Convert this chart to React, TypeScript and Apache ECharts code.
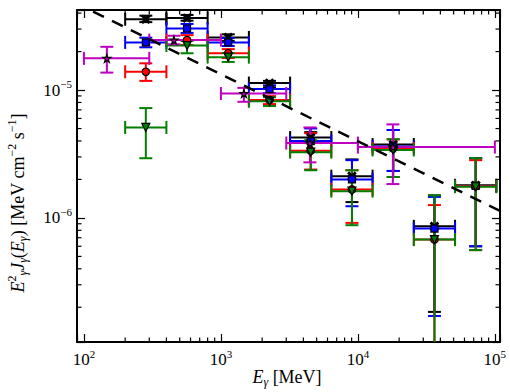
import React, { useEffect, useRef } from 'react';
import * as echarts from 'echarts';

// Energy bins (MeV)
const binLow = [200, 400, 800, 1600, 3200, 6400, 12800, 25600, 51200];
const binHigh = [400, 800, 1600, 3200, 6400, 12800, 25600, 51200, 102400];
const binCenter = [283, 566, 1131, 2263, 4525, 9051, 18102, 36204, 72408];

// Black (x markers)
const blackY = [3.58e-5, 3.66e-5, 2.58e-5, 1.134e-5, 4.25e-6, 2.12e-6, 3.75e-6, 8.6e-7, 1.8e-6];
const blackLo = [3.4e-5, 3.49e-5, 2.42e-5, 1.05e-5, 3.85e-6, 1.33e-6, 2.33e-6, 1.84e-7, 6.0e-7];
const blackHi = [3.82e-5, 3.87e-5, 2.73e-5, 1.18e-5, 4.69e-6, 2.87e-6, 4.87e-6, 1.5e-6, 2.93e-6];

// Blue squares
const blueY = [2.36e-5, 3.03e-5, 2.36e-5, 1.018e-5, 3.99e-6, 2.0e-6, 3.62e-6, 8.26e-7, 1.78e-6];
const blueLo = [2.16e-5, 2.8e-5, 2.21e-5, 9.47e-6, 3.3e-6, 1.234e-6, 2.33e-6, 1.71e-7, 6.0e-7];
const blueHi = [2.57e-5, 3.29e-5, 2.55e-5, 1.09e-5, 5.01e-6, 2.83e-6, 4.87e-6, 1.46e-6, 2.93e-6];

// Red circles
const redY = [1.39e-5, 2.46e-5, 1.94e-5, 8.35e-6, 3.35e-6, 1.67e-6, 3.5e-6, 6.77e-7, 1.77e-6];
const redLo = [1.18e-5, 2.25e-5, 1.78e-5, 7.77e-6, 2.39e-6, 9.14e-7, 2.09e-6, 5e-8, 5.6e-7];
const redHi = [1.62e-5, 2.69e-5, 2.09e-5, 8.97e-6, 4.6e-6, 2.36e-6, 4.11e-6, 1.26e-6, 2.83e-6];

// Green down-triangles
const greenY = [5.1e-6, 2.23e-5, 1.81e-5, 8.17e-6, 3.27e-6, 1.62e-6, 3.4e-6, 6.77e-7, 1.755e-6];
const greenLo = [2.93e-6, 1.94e-5, 1.66e-5, 7.5e-6, 2.36e-6, 8.77e-7, 2.09e-6, 5e-8, 5.6e-7];
const greenHi = [7.23e-6, 2.42e-5, 1.95e-5, 8.8e-6, 4.06e-6, 2.36e-6, 4.13e-6, 1.5e-6, 2.93e-6];

// Magenta stars
const magX = [147, 454, 1472, 4463, 18010];
const magXLo = [100, 300, 1000, 3000, 10000];
const magXHi = [300, 1000, 3000, 10000, 100000];
const magY = [1.77e-5, 2.46e-5, 9.4e-6, 3.85e-6, 3.58e-6];
const magLo = [1.37e-5, 2.28e-5, 8.1e-6, 2.72e-6, 1.84e-6];
const magHi = [2.18e-5, 2.66e-5, 1.04e-5, 5.1e-6, 5.39e-6];

// Dashed reference power law
const dashE = [85, 110000];
const dashF = [4.85e-5, 1.13e-6];

// Minor tick positions
const xMinor = [200, 300, 400, 500, 600, 700, 800, 900, 2000, 3000, 4000, 5000, 6000, 7000, 8000, 9000, 20000, 30000, 40000, 50000, 60000, 70000, 80000, 90000];
const yMinor = [2e-7, 3e-7, 4e-7, 5e-7, 6e-7, 7e-7, 8e-7, 9e-7, 2e-6, 3e-6, 4e-6, 5e-6, 6e-6, 7e-6, 8e-6, 9e-6, 2e-5, 3e-5, 4e-5];

const X_MIN = 89;
const X_MAX = 109000;
const Y_MIN = 1.07e-7;
const Y_MAX = 4.23e-5;

const FONT = 'Liberation Serif, DejaVu Serif, serif';

const starPath = 'path://M50,0 L61,35 L98,35 L68,57 L79,91 L50,70 L21,91 L32,57 L2,35 L39,35 Z';
const xPath = 'path://M0,1.5 L1.5,0 L5,3.5 L8.5,0 L10,1.5 L6.5,5 L10,8.5 L8.5,10 L5,6.5 L1.5,10 L0,8.5 L3.5,5 Z';

function errRender(color: string) {
  return (params: any, api: any) => {
    const x = api.value(0), y = api.value(1);
    const xl = api.value(2), xh = api.value(3), yl = api.value(4), yh = api.value(5);
    const c = api.coord([x, y]);
    const l = api.coord([xl, y]);
    const r = api.coord([xh, y]);
    const t = api.coord([x, yh]);
    const b = api.coord([x, yl]);
    const cap = 6.5;
    const st = { stroke: color, lineWidth: 2 };
    const ln = (x1: number, y1: number, x2: number, y2: number) => ({ type: 'line', shape: { x1, y1, x2, y2 }, style: st });
    return {
      type: 'group',
      children: [
        ln(l[0], c[1], r[0], c[1]),
        ln(l[0], c[1] - cap, l[0], c[1] + cap),
        ln(r[0], c[1] - cap, r[0], c[1] + cap),
        ln(c[0], t[1], c[0], b[1]),
        ln(c[0] - cap, t[1], c[0] + cap, t[1]),
        ln(c[0] - cap, b[1], c[0] + cap, b[1]),
      ],
    };
  };
}

function binnedData(ys: number[], lo: number[], hi: number[]) {
  return ys.map((v, i) => [binCenter[i], v, binLow[i], binHigh[i], lo[i], hi[i]]);
}

const supRich = {
  b: { fontSize: 17, fontFamily: FONT, color: '#000' },
  s: { fontSize: 11, fontFamily: FONT, color: '#000', padding: [0, 0, 12, 0] },
};

function powLabel(v: number) {
  const l = Math.log10(v);
  const r = Math.round(l);
  if (Math.abs(l - r) > 1e-6) return '';
  const e = r < 0 ? '\u2212' + String(-r) : String(r);
  return '{b|10}{s|' + e + '}';
}

export default function App() {
  const ref = useRef<HTMLDivElement>(null);
  useEffect(() => {
    if (!ref.current) return;
    const chart = echarts.init(ref.current, undefined, { renderer: 'svg' });

    const axisLine = { show: true, onZero: false, lineStyle: { color: '#000', width: 2 } };
    const axisTick = { show: true, inside: true, length: 8, lineStyle: { color: '#000', width: 1.2 } };

    const series: any[] = [
      { name: 'blackErr', data: binnedData(blackY, blackLo, blackHi), color: '#000000' },
      { name: 'blueErr', data: binnedData(blueY, blueLo, blueHi), color: '#0000ff' },
      { name: 'redErr', data: binnedData(redY, redLo, redHi), color: '#ff0000' },
      { name: 'greenErr', data: binnedData(greenY, greenLo, greenHi), color: '#008000' },
      { name: 'magErr', data: magY.map((v, i) => [magX[i], v, magXLo[i], magXHi[i], magLo[i], magHi[i]]), color: '#bf00bf' },
    ].map((s, i) => ({
      type: 'custom',
      name: s.name,
      data: s.data,
      encode: { x: 0, y: 1 },
      clip: true,
      z: 2 + i * 0.01,
      renderItem: errRender(s.color),
      silent: true,
    }));

    const mk = (name: string, xs: number[], ys: number[], symbol: string, size: number, color: string, rotate = 0) => ({
      type: 'scatter',
      name,
      data: ys.map((v, i) => [xs[i], v]),
      symbol,
      symbolSize: size,
      symbolRotate: rotate,
      itemStyle: { color, borderColor: '#000', borderWidth: 1.2, opacity: 1 },
      z: 5,
      clip: true,
      silent: true,
    });

    series.push(
      mk('black', binCenter, blackY, xPath, 8, '#000'),
      mk('blue', binCenter, blueY, 'rect', 7, '#0000ff'),
      mk('red', binCenter, redY, 'circle', 7.5, '#ff0000'),
      mk('green', binCenter, greenY, 'triangle', 8, '#008000', 180),
      mk('magenta', magX, magY, starPath, 8, '#bf00bf'),
      {
        type: 'line',
        name: 'powerlaw',
        data: dashE.map((e, i) => [e, dashF[i]]),
        showSymbol: false,
        symbol: 'none',
        clip: true,
        lineStyle: { color: '#000', width: 2.5, type: [12, 9] },
        z: 6,
        silent: true,
      },
      {
        type: 'custom',
        name: 'minorTicks',
        data: [
          ...xMinor.map((v) => [v, 1e-6, 0]),
          ...yMinor.map((v) => [1000, v, 1]),
        ],
        encode: { x: 0, y: 1 },
        clip: false,
        z: 7,
        silent: true,
        renderItem: (params: any, api: any) => {
          const kind = api.value(2);
          const cs = params.coordSys;
          const p = api.coord([api.value(0), api.value(1)]);
          const L = 4.5;
          const st = { stroke: '#000', lineWidth: 1.2 };
          if (kind === 0) {
            return {
              type: 'group',
              children: [
                { type: 'line', shape: { x1: p[0], y1: cs.y + cs.height, x2: p[0], y2: cs.y + cs.height - L }, style: st },
                { type: 'line', shape: { x1: p[0], y1: cs.y, x2: p[0], y2: cs.y + L }, style: st },
              ],
            };
          }
          return {
            type: 'group',
            children: [
              { type: 'line', shape: { x1: cs.x, y1: p[1], x2: cs.x + L, y2: p[1] }, style: st },
              { type: 'line', shape: { x1: cs.x + cs.width, y1: p[1], x2: cs.x + cs.width - L, y2: p[1] }, style: st },
            ],
          };
        },
      }
    );

    const titleRich = {
      r: { fontSize: 18, fontFamily: FONT, color: '#000' },
      i: { fontSize: 18, fontFamily: FONT, fontStyle: 'italic', color: '#000' },
      sub: { fontSize: 12, fontFamily: FONT, fontStyle: 'italic', color: '#000', padding: [10, 0, 0, 0] },
      sup: { fontSize: 12, fontFamily: FONT, color: '#000', padding: [0, 0, 12, 0] },
    };

    chart.setOption({
      animation: false,
      backgroundColor: '#fff',
      textStyle: { fontFamily: FONT },
      grid: { left: 77, right: 10, top: 10, bottom: 50, containLabel: false },
      xAxis: [
        {
          type: 'log', logBase: 10, min: X_MIN, max: X_MAX, position: 'bottom',
          axisLine, axisTick, splitLine: { show: false }, minorTick: { show: false },
          axisLabel: { show: true, margin: 6, fontFamily: FONT, formatter: powLabel, rich: supRich, showMinLabel: true, showMaxLabel: true, hideOverlap: false },
        },
        {
          type: 'log', logBase: 10, min: X_MIN, max: X_MAX, position: 'top',
          axisLine, axisTick, splitLine: { show: false }, axisLabel: { show: false },
        },
      ],
      yAxis: [
        {
          type: 'log', logBase: 10, min: Y_MIN, max: Y_MAX, position: 'left',
          axisLine, axisTick, splitLine: { show: false },
          axisLabel: { show: true, margin: 5, fontFamily: FONT, formatter: powLabel, rich: supRich, hideOverlap: false },
        },
        {
          type: 'log', logBase: 10, min: Y_MIN, max: Y_MAX, position: 'right',
          axisLine, axisTick, splitLine: { show: false }, axisLabel: { show: false },
        },
      ],
      graphic: [
        {
          type: 'text',
          x: 287, y: 377,
          style: {
            text: '{i|E}{sub|\u03b3}{r| [MeV]}',
            rich: titleRich,
            fontFamily: FONT,
            fontSize: 18,
            align: 'center', verticalAlign: 'middle',
            textAlign: 'center', textVerticalAlign: 'middle',
            fill: '#000',
          },
          silent: true,
        },
        {
          type: 'text',
          x: 18, y: 203,
          rotation: Math.PI / 2,
          style: {
            text: '{i|E}{sup|2}{sub|\u03b3}{i|J}{sub|\u03b3}{r|(}{i|E}{sub|\u03b3}{r|) [MeV cm}{sup|\u22122}{r| s}{sup|\u22121}{r|]}',
            rich: titleRich,
            fontFamily: FONT,
            fontSize: 18,
            align: 'center', verticalAlign: 'middle',
            textAlign: 'center', textVerticalAlign: 'middle',
            fill: '#000',
          },
          silent: true,
        },
      ],
      series,
    });

    return () => chart.dispose();
  }, []);

  return <div ref={ref} style={{ position: 'absolute', left: 0, top: 0, width: 510, height: 392, background: '#fff' }} />;
}
